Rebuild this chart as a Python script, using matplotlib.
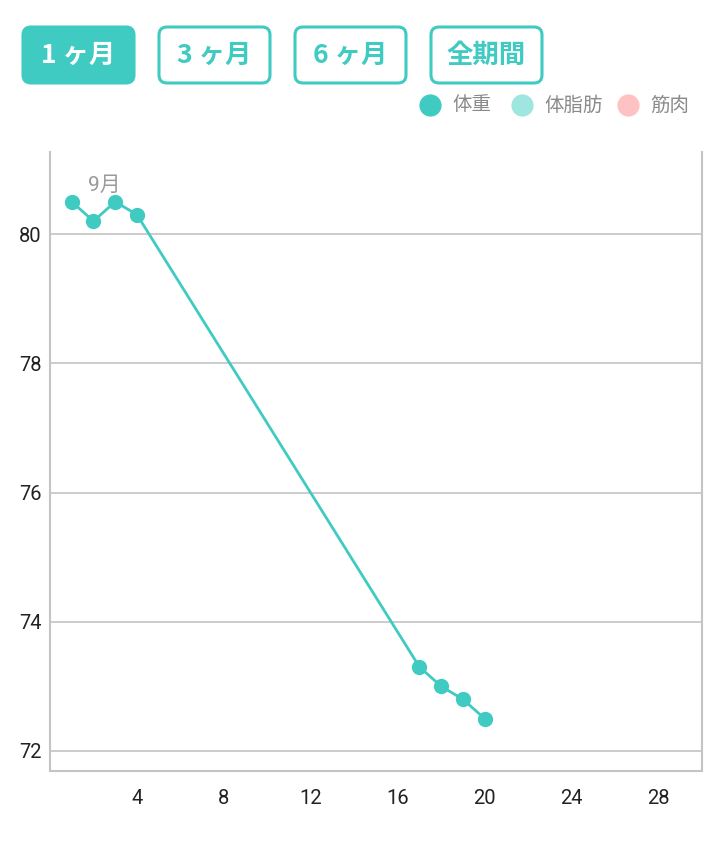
import matplotlib.pyplot as plt
from matplotlib.patches import FancyBboxPatch

plt.rcParams['font.family'] = ['Noto Sans CJK JP', 'DejaVu Sans']

# データ（9月の体重）
days = [1, 2, 3, 4, 17, 18, 19, 20]
weight = [80.5, 80.2, 80.5, 80.3, 73.3, 73.0, 72.8, 72.5]

x_ticks = [4, 8, 12, 16, 20, 24, 28]
y_ticks = [72, 74, 76, 78, 80]

periods = ['1 ヶ月', '3 ヶ月', '6 ヶ月', '全期間']
legend_labels = ['体重', '体脂肪', '筋肉']

TEAL = '#3fcac2'
LIGHT_TEAL = '#9fe6e1'
PINK = '#ffc2c2'
GRID = '#c4c4c4'
legend_colors = [TEAL, LIGHT_TEAL, PINK]

W, H = 724, 851
fig = plt.figure(figsize=(W / 100, H / 100), dpi=100)

# グラフ本体
ax = fig.add_axes([50 / W, 80 / H, 652 / W, 619 / H])
ax.plot(days, weight, color=TEAL, lw=2.0, marker='o', markersize=11,
        markeredgewidth=0, zorder=3)
ax.set_xlim(0, 30)
ax.set_ylim(71.69, 81.27)
ax.set_xticks(x_ticks)
ax.set_yticks(y_ticks)
ax.tick_params(length=0, labelsize=14.5, colors='#222222', pad=6)
ax.tick_params(axis='x', pad=13)
for lbl in ax.get_xticklabels() + ax.get_yticklabels():
    lbl.set_family(['Roboto', 'DejaVu Sans'])
ax.grid(axis='y', color=GRID, lw=1.2)
ax.set_axisbelow(True)
for side in ['left', 'right', 'bottom']:
    ax.spines[side].set_color(GRID)
    ax.spines[side].set_linewidth(1.5)
ax.spines['top'].set_visible(False)
ax.text(2.5, 80.6, '9月', color='#9a9a9a', fontsize=15, ha='center', va='bottom',
        family=['Roboto', 'Noto Sans CJK JP'])

# 上部のボタンと凡例（ピクセル座標）
top = fig.add_axes([0, 0, 1, 1], zorder=5)
top.set_xlim(0, W)
top.set_ylim(H, 0)
top.axis('off')

btn_left = [23, 159, 295, 431]
btn_w = 111
for i, (lbl, x0) in enumerate(zip(periods, btn_left)):
    active = i == 0
    box = FancyBboxPatch((x0 + 6, 33), btn_w - 12, 44,
                         boxstyle='round,pad=6,rounding_size=8',
                         facecolor=TEAL if active else 'white',
                         edgecolor=TEAL, lw=2.2)
    top.add_patch(box)
    top.text(x0 + btn_w / 2, 55, lbl, ha='center', va='center', fontsize=19,
             fontweight='bold', color='white' if active else TEAL)

dot_x = [430, 522, 628]
for x, lbl, c in zip(dot_x, legend_labels, legend_colors):
    top.plot(x, 105, 'o', color=c, markersize=16, markeredgewidth=0)
    top.text(x + 22, 105, lbl, ha='left', va='center', fontsize=14, color='#8a8a8a')

fig.savefig('out.png', dpi=100)
